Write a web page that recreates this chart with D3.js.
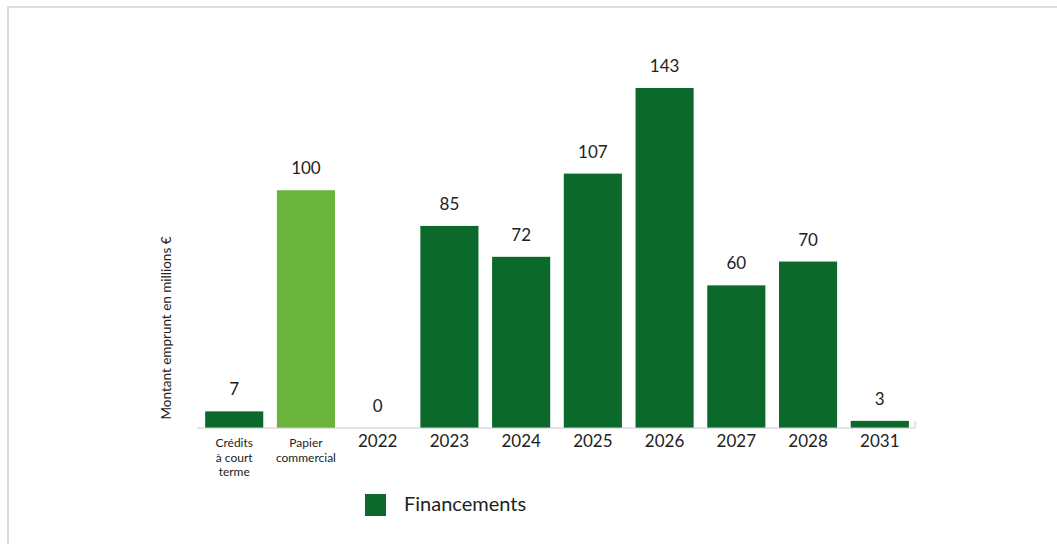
<!DOCTYPE html>
<html><head><meta charset="utf-8">
<script src="https://cdn.jsdelivr.net/npm/d3@7/dist/d3.min.js"></script>
<style>
html,body{margin:0;padding:0;background:#fff;}
svg{display:block;font-family:"Lato","Noto Sans",sans-serif;}
</style></head>
<body>
<svg id="chart" width="1057" height="544"></svg>
<script>
const categories = ["Crédits\nà court\nterme", "Papier\ncommercial", "2022", "2023", "2024", "2025", "2026", "2027", "2028", "2031"];
const values = [7, 100, 0, 85, 72, 107, 143, 60, 70, 3];
const highlighted = ["Papier\ncommercial"];
const seriesName = "Financements";
const yTitle = "Montant emprunt en millions €";

const dark = "#0b692c", light = "#6bb43b";
const svg = d3.select("#chart");

// frame
svg.append("path").attr("d","M8,545 L8,7 L1058,7").attr("fill","none").attr("stroke","#dcdcdc").attr("stroke-width",2);

const x0 = 198, x1 = 916, yBase = 428;
const x = d3.scaleBand().domain(categories).range([x0, x1]).paddingInner(0.19).paddingOuter(0.1);
const y = d3.scaleLinear().domain([0, 143]).range([yBase, 88]);

// bars
svg.selectAll("rect.bar").data(categories).join("rect")
  .attr("class","bar")
  .attr("x", d => x(d))
  .attr("width", x.bandwidth())
  .attr("y", (d,i) => y(values[i]))
  .attr("height", (d,i) => yBase - y(values[i]))
  .attr("fill", d => highlighted.includes(d) ? light : dark);

// axis
const axis = d3.axisBottom(x).tickSize(0).tickFormat("");
const gx = svg.append("g").attr("transform", `translate(0,${yBase})`).call(axis);
gx.select(".domain").attr("stroke","#c8c8c8").attr("d", `M${x0-1},0H${x1-1}V-7`);

// x labels
categories.forEach(c => {
  const lines = c.split("\n");
  const multi = lines.length > 1;
  lines.forEach((l,i) => svg.append("text")
    .attr("x", x(c) + x.bandwidth()/2)
    .attr("y", 447 + i*14.6)
    .attr("text-anchor","middle")
    .attr("fill","#222")
    .attr("font-size", multi ? 12 : 17)
    .text(l));
});

// value labels
svg.selectAll("text.val").data(categories).join("text")
  .attr("class","val")
  .attr("x", d => x(d) + x.bandwidth()/2)
  .attr("y", (d,i) => y(values[i]) - 16)
  .attr("text-anchor","middle")
  .attr("fill","#222")
  .attr("font-size", 17)
  .text((d,i) => values[i]);

// y title
svg.append("text")
  .attr("transform","translate(171,328) rotate(-90)")
  .attr("text-anchor","middle")
  .attr("fill","#222")
  .attr("font-size", 13.5)
  .text(yTitle);

// legend
svg.append("rect").attr("x",365).attr("y",494).attr("width",21).attr("height",22).attr("fill",dark);
svg.append("text").attr("x",404).attr("y",511).attr("font-size",20).attr("fill","#222").text(seriesName);
</script>
</body></html>
